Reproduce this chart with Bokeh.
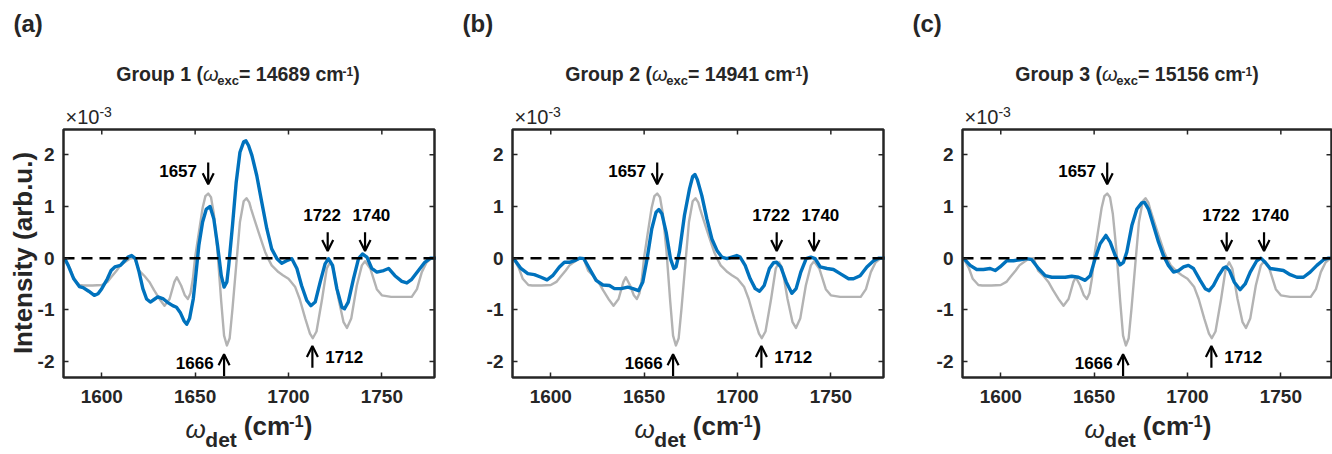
from math import pi
from bokeh.plotting import figure
from bokeh.models import Label, Arrow, OpenHead, LinearAxis, Range1d, FixedTicker, BoxAnnotation
from bokeh.layouts import row
from bokeh.embed import file_html
from bokeh.resources import INLINE

# ---------------- data ----------------
ref_x = [1580, 1583, 1585, 1588, 1590, 1595, 1600, 1603, 1605, 1608, 1610, 1613, 1615, 1617.5,
         1620, 1623, 1625.5, 1628, 1630.9, 1633.6, 1636.3, 1638.9, 1640.2, 1642.5, 1644.5, 1646.1,
         1647.5, 1648.8, 1650, 1652, 1654, 1655.5, 1657, 1658.5, 1660, 1662, 1664, 1665.5, 1667,
         1668.5, 1670, 1672, 1674, 1676, 1677.5, 1679, 1680, 1682, 1684, 1686, 1687.5, 1689, 1691,
         1694.6, 1697, 1700, 1703.6, 1706, 1709, 1711.5, 1713, 1715, 1718, 1720.5, 1722.3, 1724,
         1726.8, 1729.5, 1731.3, 1733.6, 1736.6, 1739.3, 1741, 1743.8, 1747.3, 1750, 1755, 1760,
         1766, 1768.8, 1771.4, 1774, 1776.8, 1779]
ref_y = [0, -0.2, -0.4, -0.52, -0.53, -0.53, -0.52, -0.46, -0.37, -0.24, -0.14, -0.06, -0.01, 0,
         -0.24, -0.35, -0.46, -0.62, -0.79, -0.92, -0.79, -0.46, -0.37, -0.53, -0.72, -0.79,
         -0.68, -0.4, 0.02, 0.5, 0.97, 1.2, 1.25, 1.18, 0.86, 0.12, -0.85, -1.5, -1.69,
         -1.55, -0.98, -0.14, 0.7, 1.1, 1.16, 1.08, 0.95, 0.72, 0.5, 0.28, 0.12, 0.0, -0.14,
         -0.27, -0.33, -0.4, -0.56, -0.79, -1.17, -1.46, -1.55, -1.42, -0.79, -0.2, -0.08, -0.2,
         -0.79, -1.24, -1.35, -1.17, -0.53, -0.14, -0.06, -0.2, -0.6, -0.72, -0.75, -0.75,
         -0.75, -0.6, -0.27, -0.08, 0, 0]

g1_x = [1580, 1582, 1585, 1588, 1590, 1593, 1596, 1598, 1600, 1603, 1605, 1607, 1610, 1612, 1614,
        1616, 1618, 1620, 1622, 1624, 1626, 1628, 1630, 1633, 1635, 1638, 1640, 1642, 1644, 1645.5,
        1647, 1649, 1650, 1652, 1654, 1656, 1658, 1660, 1662, 1664, 1665.5, 1667, 1668, 1670, 1672,
        1674, 1676, 1677.2, 1678.6, 1680.4, 1683, 1685.7, 1688.4, 1691, 1693.8, 1696.4, 1699,
        1701.8, 1704.5, 1707, 1709.8, 1712, 1714.3, 1717, 1719.6, 1721.4, 1723.6, 1725.9, 1728.6,
        1730, 1732, 1734.8, 1737.5, 1739.6, 1742, 1744.6, 1747.3, 1751, 1753.6, 1757, 1760.7,
        1763.4, 1766, 1769.6, 1773, 1776, 1779]
g1_y = [0, -0.14, -0.4, -0.55, -0.57, -0.64, -0.72, -0.69, -0.59, -0.4, -0.24, -0.17, -0.14, -0.06,
        0.02, 0.05, -0.01, -0.27, -0.59, -0.79, -0.85, -0.8, -0.75, -0.79, -0.85, -0.92, -0.95,
        -1.05, -1.21, -1.28, -1.17, -0.79, -0.46, 0.25, 0.7, 0.95, 1.0, 0.76, 0.25, -0.34, -0.56,
        -0.46, -0.14, 0.63, 1.47, 2.05, 2.25, 2.27, 2.18, 1.99, 1.6, 1.08, 0.57, 0.18, -0.01,
        -0.1, -0.05, -0.01, -0.2, -0.53, -0.82, -0.92, -0.85, -0.46, -0.11, -0.01, -0.14, -0.59,
        -0.95, -0.98, -0.85, -0.4, -0.01, 0.08, 0.02, -0.2, -0.27, -0.24, -0.2, -0.34, -0.45,
        -0.48, -0.41, -0.24, -0.08, 0, 0]

g2_x = [1580, 1584, 1587.7, 1591.2, 1594.8, 1598, 1601, 1604.6, 1607.3, 1610, 1612.7, 1615.4,
        1617.7, 1620.7, 1624.3, 1627.9, 1631.4, 1634.1, 1637.7, 1641.3, 1644, 1647, 1649.3, 1651.6,
        1654.1, 1656.4, 1657.9, 1659.5, 1661.8, 1664.1, 1665.9, 1667.1, 1668.9, 1671.6, 1674.3,
        1676, 1677.2, 1678.5, 1680.9, 1683.6, 1686.3, 1689, 1691.6, 1694.3, 1697, 1699.6, 1701.4,
        1704.1, 1706.8, 1709.5, 1711.8, 1714.3, 1717.1, 1719.3, 1721, 1723.2, 1726.1, 1729.1,
        1731.4, 1733.9, 1736.8, 1739.3, 1741.6, 1744.3, 1747.9, 1751.4, 1755, 1759.5, 1762.1,
        1765.7, 1769.3, 1772.9, 1775.5, 1779]
g2_y = [0, -0.2, -0.3, -0.32, -0.37, -0.42, -0.34, -0.17, -0.08, -0.08, -0.05, 0,
        -0.01, -0.2, -0.43, -0.52, -0.53, -0.59, -0.59, -0.56, -0.59, -0.63, -0.46, -0.01,
        0.57, 0.89, 0.94, 0.86, 0.5, -0.01, -0.2, -0.17, 0.12, 0.83, 1.34,
        1.58, 1.62, 1.52, 1.21, 0.76, 0.37, 0.15, 0.02, -0.01, 0.02, 0.05, 0.02,
        -0.14, -0.4, -0.59, -0.64, -0.53, -0.2, -0.09, -0.08, -0.17, -0.46, -0.68,
        -0.59, -0.27, -0.01, 0.02, -0.01, -0.17, -0.2, -0.22, -0.3, -0.4, -0.4,
        -0.34, -0.17, -0.05, 0, 0]

g3_x = [1580, 1583.6, 1587.1, 1590.7, 1594.3, 1597, 1599.6, 1603.2, 1606.8, 1610.4, 1613.9, 1616.6,
        1620.2, 1623.8, 1627.3, 1630.9, 1634.5, 1638, 1641.6, 1645.2, 1647.9, 1650.5, 1653.2,
        1656.3, 1658.6, 1661.3, 1663.9, 1665.7, 1667.5, 1670.2, 1672.9, 1675.5, 1677, 1679.1,
        1681.8, 1684.5, 1687.1, 1689.8, 1692.5, 1695.2, 1697.9, 1700.5, 1703.2, 1706.8, 1709.5,
        1711.6, 1713.9, 1716.6, 1719.3, 1720.7, 1722.5, 1725, 1728.2, 1730.9, 1733.6, 1737.1,
        1739.3, 1741.6, 1744.3, 1747.9, 1751.4, 1755, 1758.6, 1762.1, 1765.7, 1769.3, 1772.9,
        1775.5, 1779]
g3_y = [0, -0.14, -0.22, -0.22, -0.2, -0.24, -0.17, -0.05, -0.05, -0.03, -0.01, -0.03,
        -0.2, -0.34, -0.37, -0.37, -0.37, -0.35, -0.37, -0.43, -0.34, -0.01, 0.28,
        0.44, 0.31, 0.05, -0.13, -0.08, 0.12, 0.63, 0.95, 1.07, 1.08, 0.95,
        0.63, 0.31, 0.05, -0.14, -0.27, -0.24, -0.17, -0.14, -0.2, -0.43, -0.59,
        -0.63, -0.53, -0.34, -0.19, -0.17, -0.24, -0.46, -0.61, -0.5, -0.27, -0.05,
        0, -0.08, -0.2, -0.22, -0.24, -0.32, -0.37, -0.37, -0.27, -0.14, -0.03,
        0, 0]

panel_tags = ["(a)", "(b)", "(c)"]
group_names = ["Group 1", "Group 2", "Group 3"]
exc_values = ["14689", "14941", "15156"]
x_ticks = [1600, 1650, 1700, 1750]
y_ticks = [-2, -1, 0, 1, 2]
y_tick_text = {-2: "-2", -1: "-1", 0: "0", 1: "1", 2: "2"}
peak_text = ["1657", "1666", "1722", "1740", "1712"]
blue_curves = [(g1_x, g1_y), (g2_x, g2_y), (g3_x, g3_y)]

# ---------------- style / layout ----------------
FONT = "Liberation Sans"
TXT = "#262626"
BLUE = "#0072BD"
GRAY = "#B3B3B3"
X0, X1 = 1579.5, 1778.2      # axis box x limits
Y0, Y1 = -2.31, 2.49         # axis box y limits
FW, FH = 371, 248            # axis box size in px
PPX = FW / (X1 - X0)
PPY = FH / (Y1 - Y0)
BL, BT, BB = 63, 129, 77     # space left of / above / below the box
PANEL_W = [449, 450, 433]
BOX_W = [371, 371, 369]
H = BT + FH + BB
MID = 0.35                   # baseline -> visual middle, in em

AW = {'G': 778, 'r': 389, 'o': 611, 'u': 611, 'p': 611, ' ': 278, '(': 333, ')': 333,
      '=': 584, 'c': 556, 'm': 889, 'e': 556, 'x': 556, 't': 333, 'd': 611, '-': 333,
      '\u03c9': 720, '\u00d7': 584}


def tw(s, size):
    return sum(AW.get(ch, 556) for ch in s) * size / 1000.0


def sx(px):
    return X0 + px / PPX


def sy(py):
    return Y0 + py / PPY


def label(p, px, base, t, size, style="bold", align="left", x_offset=0.0, angle=0.0,
          middle=None):
    # base: baseline height in px above the box bottom
    yc = middle if middle is not None else base + MID * size
    p.add_layout(Label(x=sx(px), y=sy(yc), x_offset=x_offset, text=t, text_font=FONT,
                       text_font_size=f"{size}px", text_font_style=style, text_color=TXT,
                       text_align=align, text_baseline="middle", angle=angle))


def rich(p, px, base, parts):
    # parts: (text, size, style, baseline shift px, gap before px)
    widths = [g + tw(t, s) for (t, s, st, dy, g) in parts]
    off = -sum(widths) / 2.0
    for (t, s, st, dy, g), w in zip(parts, widths):
        label(p, px, base + dy, t, s, style=st, x_offset=off + g)
        off += w


def dlabel(p, x, y, t, size, align):
    p.add_layout(Label(x=x, y=y, text=t, text_font=FONT, text_font_size=f"{size}px",
                       text_font_style="bold", text_color="black", text_align=align,
                       text_baseline="middle"))


def arrow(p, x, ys, ye):
    p.add_layout(Arrow(end=OpenHead(size=11, line_width=2.2, line_color="black"),
                       x_start=x, y_start=ys, x_end=x, y_end=ye,
                       line_width=2.2, line_color="black"))


def make_panel(i):
    W = PANEL_W[i]
    xe = X0 + BOX_W[i] / PPX
    p = figure(output_backend="svg", toolbar_location=None, width=W, height=H,
               x_range=Range1d(X0 - BL / PPX, X0 + (W - BL) / PPX),
               y_range=Range1d(Y0 - BB / PPY, Y1 + BT / PPY),
               min_border=0, x_axis_location=None, y_axis_location=None)
    p.background_fill_color = "white"
    p.border_fill_color = "white"
    p.outline_line_color = None
    p.grid.visible = False

    # axes pinned to the box edges
    for loc in ["left", "below"]:
        ax = LinearAxis()
        if loc == "left":
            ax.ticker = FixedTicker(ticks=y_ticks)
            ax.fixed_location = X0
            ax.bounds = (Y0, Y1)
            ax.major_label_overrides = y_tick_text
            ax.major_label_standoff = 9
        else:
            ax.ticker = FixedTicker(ticks=x_ticks)
            ax.fixed_location = Y0
            ax.bounds = (X0, xe)
            ax.major_label_standoff = 12
        ax.axis_line_color = None
        ax.major_tick_in = 5
        ax.major_tick_out = 0
        ax.major_tick_line_color = TXT
        ax.major_tick_line_width = 1.5
        ax.minor_tick_line_color = None
        ax.major_label_text_font = FONT
        ax.major_label_text_font_style = "bold"
        ax.major_label_text_color = TXT
        ax.major_label_text_font_size = "19px"
        p.add_layout(ax, loc)

    # mirrored ticks on top and right edges
    p.segment(x0=x_ticks, y0=[Y1] * len(x_ticks), x1=x_ticks,
              y1=[Y1 - 5 / PPY] * len(x_ticks), line_color=TXT, line_width=1.5)
    p.segment(x0=[xe] * len(y_ticks), y0=y_ticks, x1=[xe - 5 / PPX] * len(y_ticks),
              y1=y_ticks, line_color=TXT, line_width=1.5)

    p.line(ref_x, ref_y, line_color=GRAY, line_width=2.4, line_join="round")
    bx, by = blue_curves[i]
    p.line(bx, by, line_color=BLUE, line_width=3.4, line_join="round")
    p.segment(x0=[X0], y0=[0], x1=[xe], y1=[0], line_color="black",
              line_width=2.5, line_dash="11 7")

    # axis box
    p.add_layout(BoxAnnotation(left=X0, right=xe, bottom=Y0, top=Y1, fill_color=None,
                               line_color=TXT, line_width=2.5, line_alpha=1.0))

    # peak annotations
    dlabel(p, 1651.0, 1.68, peak_text[0], 17, "right")
    arrow(p, 1657.0, 1.85, 1.43)
    dlabel(p, 1659.9, -2.02, peak_text[1], 17, "right")
    arrow(p, 1665.5, -2.28, -1.86)
    dlabel(p, 1718.0, 0.83, peak_text[2], 17, "center")
    arrow(p, 1721.0, 0.50, 0.14)
    dlabel(p, 1744.4, 0.83, peak_text[3], 17, "center")
    arrow(p, 1741.0, 0.50, 0.14)
    dlabel(p, 1719.7, -1.92, peak_text[4], 17, "left")
    arrow(p, 1712.8, -2.12, -1.70)

    # x10^-3 exponent label
    label(p, 2, 254, "\u00d710", 20, style="normal")
    label(p, 2 + tw("\u00d710", 20), 261, "-3", 14, style="normal")

    # panel tag
    label(p, -50, 346, panel_tags[i], 24)

    # title
    rich(p, 174.5, 296.5, [(group_names[i] + " (", 19.5, "bold", 0, 0),
                           ("\u03c9", 20, "italic", 0, 0),
                           ("exc", 13, "bold", -4, 0),
                           ("= " + exc_values[i] + " cm", 19.5, "bold", 0, 0),
                           ("-1", 12, "bold", 5.5, -1),
                           (")", 19.5, "bold", 0, 0)])

    # x label
    rich(p, 185.5, -57.7, [("\u03c9", 26, "italic", -2.5, 0),
                           ("det", 21, "bold", -12, 1),
                           ("(cm", 26, "bold", 0, 7),
                           ("-1", 16.5, "bold", 8, -1),
                           (")", 26, "bold", 0, 0)])

    if i == 0:
        label(p, -41, 0, "Intensity (arb.u.)", 26, align="center", angle=pi / 2,
              middle=124.5)
    return p


panels = [make_panel(i) for i in range(3)]
layout = row(*panels)
open("out.html", "w").write(file_html(layout, INLINE))
